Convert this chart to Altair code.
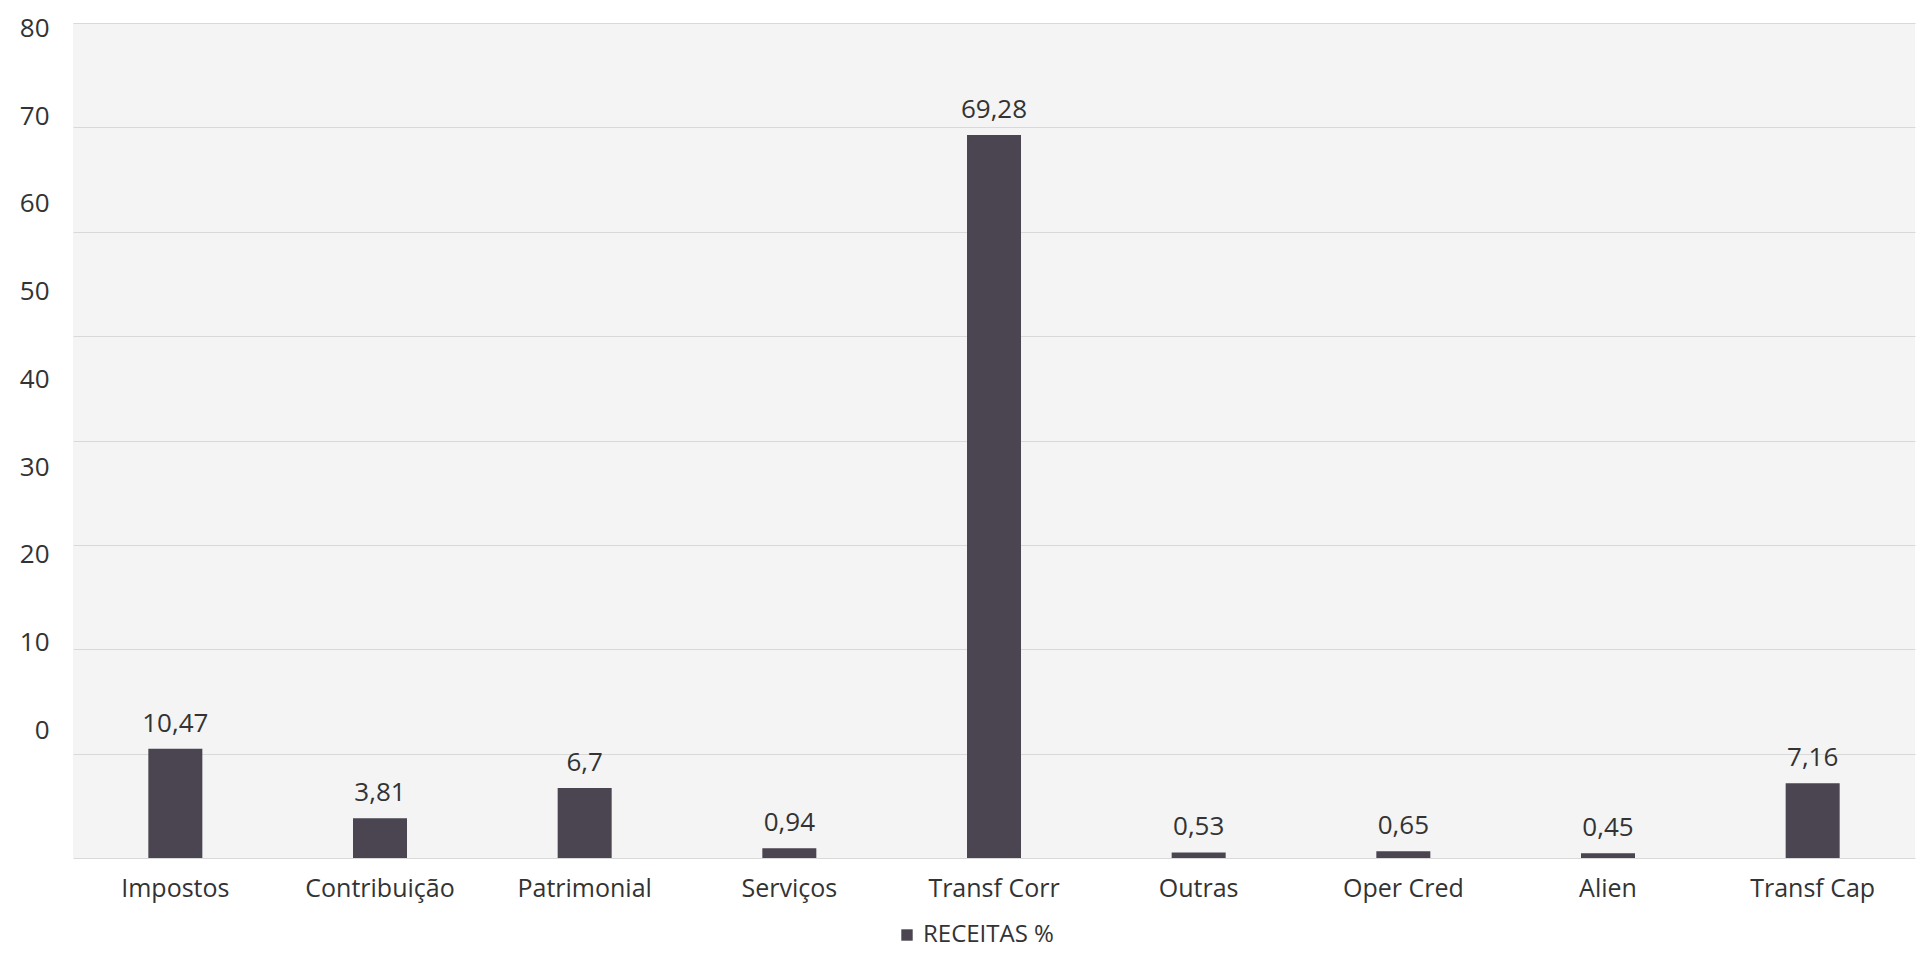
import altair as alt
import pandas as pd

categories = ["Impostos", "Contribuição", "Patrimonial", "Serviços", "Transf Corr",
              "Outras", "Oper Cred", "Alien", "Transf Cap"]
values = [10.47, 3.81, 6.7, 0.94, 69.28, 0.53, 0.65, 0.45, 7.16]
series_name = "RECEITAS %"
tick_values = [0, 10, 20, 30, 40, 50, 60, 70, 80]

df = pd.DataFrame({"cat": categories, "value": values, "serie": [series_name] * len(categories)})
ticks_df = pd.DataFrame({"t": tick_values})

FONT = "Open Sans"
TXT = "#333333"
BAR = "#4a4551"

x_enc = alt.X("cat:N", sort=categories, title=None,
              scale=alt.Scale(paddingInner=0.0, paddingOuter=0.0),
              axis=alt.Axis(labelAngle=0, labelFontSize=25, labelColor=TXT, labelFont=FONT,
                            labelPadding=18, ticks=False, domain=False, grid=False))

bars = alt.Chart(df).mark_bar(size=54).encode(
    x=x_enc,
    y=alt.Y("value:Q", title=None, scale=alt.Scale(domain=[0, 80], nice=False),
            axis=alt.Axis(orient="left", values=tick_values, labels=False, ticks=False,
                          domain=False, grid=True, gridColor="#d9d9d9", gridWidth=1,
                          minExtent=0, maxExtent=0)),
    color=alt.Color("serie:N", title=None,
                    scale=alt.Scale(range=[BAR]),
                    legend=alt.Legend(orient="none", legendX=822, legendY=900,
                                      direction="horizontal",
                                      labelFontSize=24, labelFont=FONT, labelColor=TXT,
                                      symbolType="square", symbolSize=130,
                                      symbolStrokeWidth=0)),
)

labels = alt.Chart(df).transform_calculate(
    label="replace(toString(datum.value), '.', ',')"
).mark_text(baseline="bottom", dy=-12, fontSize=26, font=FONT, color=TXT).encode(
    x=alt.X("cat:N", sort=categories),
    y=alt.Y("value:Q", scale=alt.Scale(domain=[0, 80], nice=False)),
    text="label:N",
)

ylab = alt.Chart(ticks_df).mark_point(opacity=0).encode(
    y=alt.Y("t:Q", title=None,
            scale=alt.Scale(domain=[-14.52, 80.6], nice=False, zero=False),
            axis=alt.Axis(orient="left", values=tick_values, grid=False, ticks=False,
                          domain=False, labelFontSize=26, labelFont=FONT, labelColor=TXT,
                          labelPadding=24, labelBaseline="middle")),
)

chart = alt.layer(alt.layer(bars, labels), ylab).resolve_scale(y="independent").properties(
    width=1842, height=835,
    autosize=alt.AutoSizeParams(type="none"),
    padding={"left": 65, "top": 15, "right": 3, "bottom": 95},
    background="white",
).configure_view(fill="#f4f4f4", stroke=None)

chart.save("out.html", embed_options={"renderer": "svg", "actions": False})
